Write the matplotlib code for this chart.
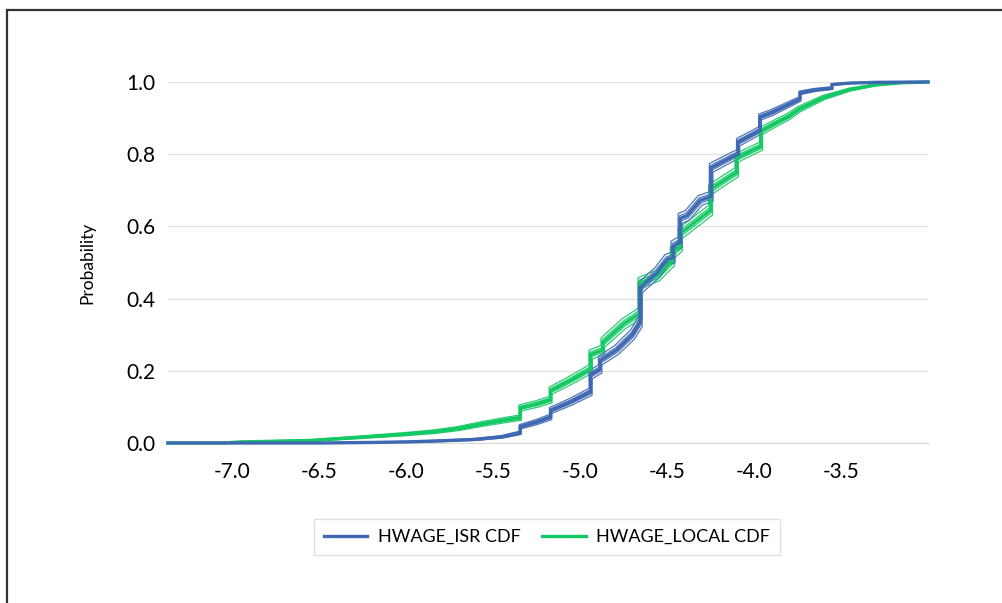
import matplotlib
matplotlib.use("Agg")
import matplotlib.pyplot as plt
from matplotlib.lines import Line2D
import numpy as np

ISR_X = [-7.37, -6.5, -6.2, -6.0, -5.8, -5.6, -5.45, -5.345, -5.345, -5.25,
         -5.17, -5.17, -5.05, -4.94, -4.94, -4.885, -4.885, -4.79, -4.70,
         -4.655, -4.655, -4.557, -4.50, -4.466, -4.466, -4.437, -4.425,
         -4.425, -4.385, -4.31, -4.247, -4.247, -4.121, -4.092, -4.092,
         -3.966, -3.966, -3.90, -3.80, -3.736, -3.736, -3.65, -3.552, -3.552,
         -3.45, -3.30, -3.0]
ISR_P = [0.0, 0.0, 0.0015, 0.003, 0.006, 0.010, 0.017, 0.028, 0.045, 0.058,
         0.072, 0.090, 0.115, 0.142, 0.189, 0.205, 0.228, 0.258, 0.300,
         0.335, 0.430, 0.472, 0.508, 0.514, 0.545, 0.553, 0.556,
         0.622, 0.630, 0.672, 0.683, 0.762, 0.794, 0.800, 0.833,
         0.866, 0.903, 0.915, 0.938, 0.953, 0.970, 0.978, 0.983, 0.993,
         0.997, 0.999, 1.0]

LOCAL_X = [-7.37, -7.05, -6.95, -6.55, -6.26, -6.02, -5.845, -5.70, -5.56,
           -5.40, -5.345, -5.345, -5.25, -5.17, -5.17, -5.05, -4.94, -4.94,
           -4.87, -4.87, -4.75, -4.655, -4.655, -4.557, -4.47, -4.47,
           -4.425, -4.425, -4.25, -4.25, -4.10, -4.10, -3.96, -3.96,
           -3.90, -3.80, -3.74, -3.60, -3.45, -3.30, -3.15, -3.0]
LOCAL_P = [0.0, 0.0, 0.003, 0.007, 0.016, 0.024, 0.031, 0.040, 0.053,
           0.066, 0.070, 0.097, 0.108, 0.120, 0.145, 0.175, 0.205, 0.245,
           0.258, 0.278, 0.330, 0.360, 0.444, 0.463, 0.505, 0.527,
           0.545, 0.580, 0.645, 0.703, 0.750, 0.790, 0.822, 0.864,
           0.880, 0.905, 0.925, 0.957, 0.979, 0.992, 0.998, 1.0]

# thin bound lines around each curve: (probability offset, x shift)
BAND_OFFSETS = [-0.014, -0.007, 0.007, 0.014]
BAND_SHIFTS = [0.012, 0.006, -0.006, -0.012]

X_TICKS = [-7.0, -6.5, -6.0, -5.5, -5.0, -4.5, -4.0, -3.5]
Y_TICKS = [0.0, 0.2, 0.4, 0.6, 0.8, 1.0]

BLUE = "#3F68B2"
GREEN = "#14C864"

plt.rcParams["font.family"] = ["Lato", "DejaVu Sans"]

fig = plt.figure(figsize=(10.03, 6.03), dpi=100)
ax = fig.add_axes([168 / 1003, 160 / 603, 760 / 1003, 361 / 603])


def draw_cdf(x, p, color, label):
    x = np.array(x)
    p = np.array(p)
    w = 2 * np.sqrt(p * (1 - p))
    for off, dx in zip(BAND_OFFSETS, BAND_SHIFTS):
        ax.plot(x + dx * w, np.clip(p + off * w, 0, 1), color=color, lw=0.9,
                alpha=0.9, zorder=2)
    ax.plot(x, p, color=color, lw=2.4, label=label, zorder=3,
            clip_on=False, solid_joinstyle="miter")


draw_cdf(LOCAL_X, LOCAL_P, GREEN, "HWAGE_LOCAL CDF")
draw_cdf(ISR_X, ISR_P, BLUE, "HWAGE_ISR CDF")

ax.set_xlim(-7.37, -3.0)
ax.set_ylim(0, 1.0)
ax.set_xticks(X_TICKS)
ax.set_xticklabels([f"{t:.1f}" for t in X_TICKS])
ax.set_yticks(Y_TICKS)
ax.set_yticklabels([f"{t:.1f}" for t in Y_TICKS])
ax.tick_params(axis="both", length=0, labelsize=15, colors="#000000")
ax.tick_params(axis="x", pad=14)
ax.tick_params(axis="y", pad=9)
ax.grid(axis="y", color="#E3E3E3", lw=1)
ax.set_axisbelow(True)
for side in ["top", "right", "left"]:
    ax.spines[side].set_visible(False)
ax.spines["bottom"].set_color("#D9D9D9")
ax.set_ylabel("Probability", fontsize=12.5, labelpad=22)

handles = [Line2D([], [], color=BLUE, lw=2.4),
           Line2D([], [], color=GREEN, lw=2.4)]
leg = fig.legend(handles, ["HWAGE_ISR CDF", "HWAGE_LOCAL CDF"], ncol=2,
                 loc="center", bbox_to_anchor=(547 / 1003, 1 - 537 / 603),
                 fontsize=13, frameon=True, fancybox=False,
                 edgecolor="#D9D9D9", handlelength=2.4, handletextpad=0.6,
                 columnspacing=1.2, borderpad=0.55, borderaxespad=0)
leg.get_frame().set_linewidth(1)

# outer border (only top and left visible in the original crop)
fig.add_artist(Line2D([7.5 / 1003, 7.5 / 1003], [0, 1 - 9.5 / 603],
                      color="#333333", lw=1.6))
fig.add_artist(Line2D([7.5 / 1003, 1], [1 - 9.5 / 603, 1 - 9.5 / 603],
                      color="#333333", lw=1.6))

fig.savefig("out.png", dpi=100)
